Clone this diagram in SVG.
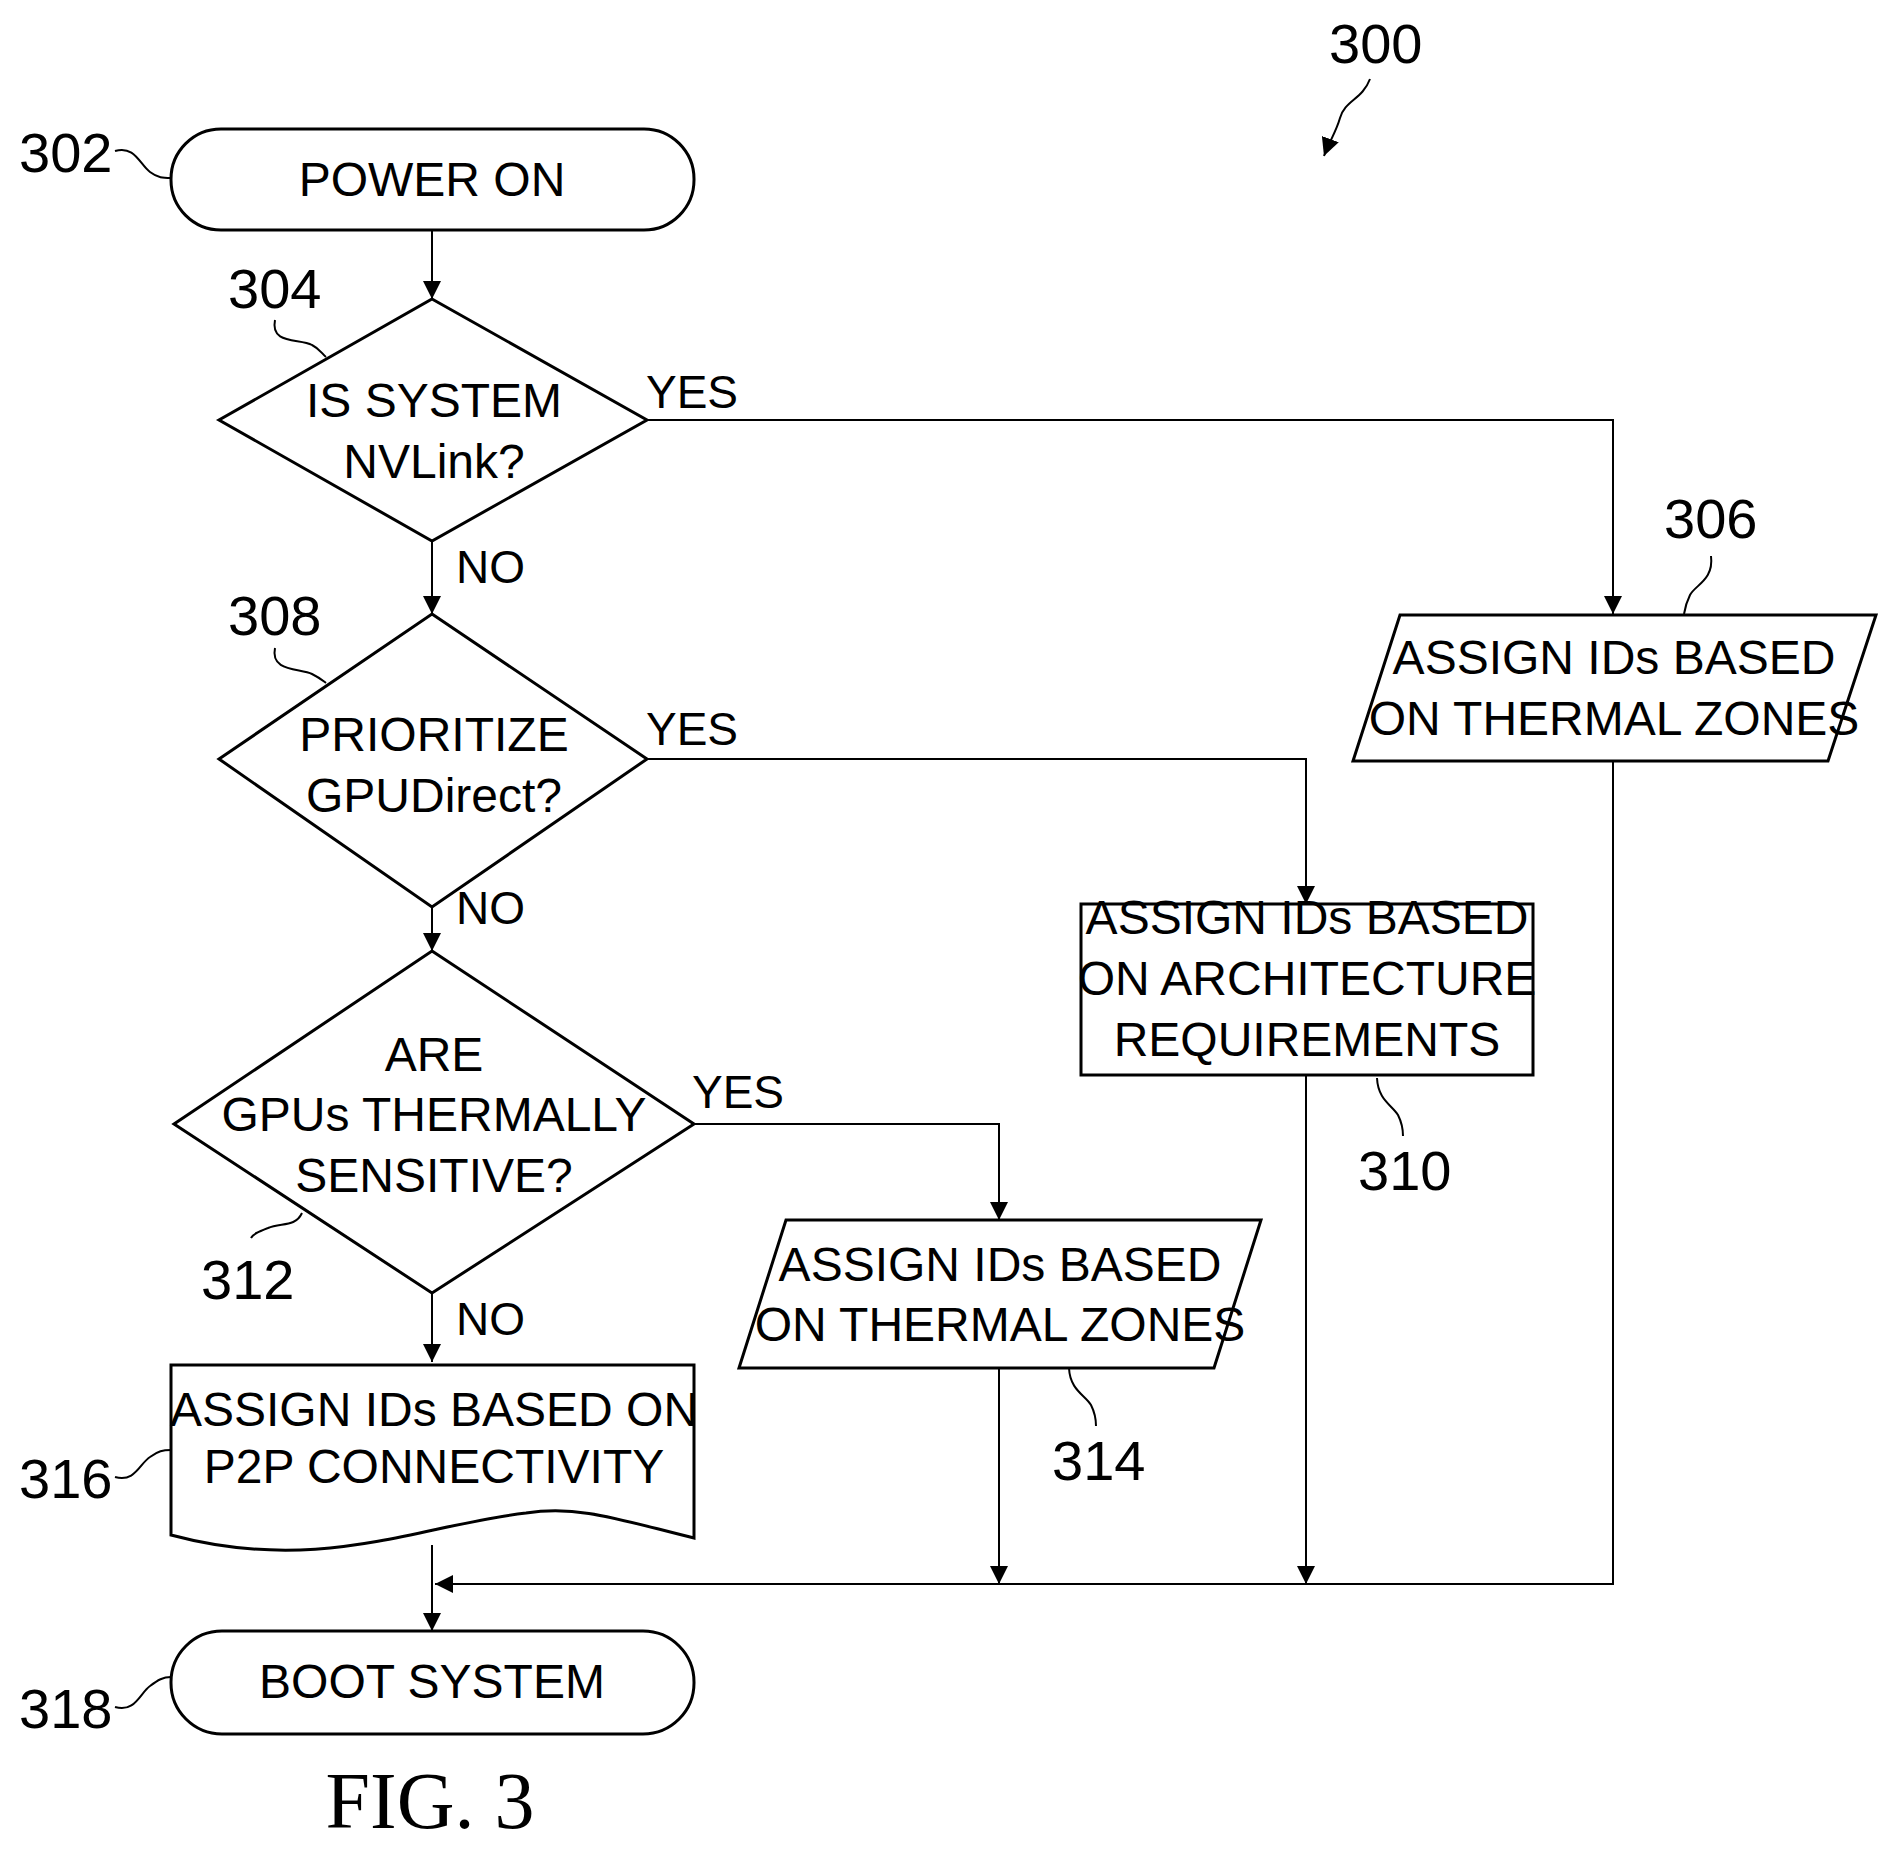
<svg xmlns="http://www.w3.org/2000/svg" width="1897" height="1849" viewBox="0 0 1897 1849">
<style>
.s{fill:none;stroke:#000;stroke-width:3}
.c{fill:none;stroke:#000;stroke-width:2}
.t{font-family:"Liberation Sans",Arial,sans-serif;font-size:48px;text-anchor:middle;fill:#000}
.l{font-family:"Liberation Sans",Arial,sans-serif;font-size:56px;fill:#000}
.y{font-family:"Liberation Sans",Arial,sans-serif;font-size:46px;fill:#000}
</style>
<defs>
<marker id="a" viewBox="0 0 10 10" refX="10" refY="5" markerWidth="9" markerHeight="9" markerUnits="userSpaceOnUse" orient="auto-start-reverse"><path d="M0,0 L10,5 L0,10 z" fill="#000"/></marker>
<marker id="b" viewBox="0 0 10 10" refX="10" refY="5" markerWidth="18" markerHeight="18" markerUnits="userSpaceOnUse" orient="auto"><path d="M0,0 L10,5 L0,10 z" fill="#000"/></marker>
</defs>
<g id="connectors">
<path class="c" d="M432,230 V299" marker-end="url(#b)"/>
<path class="c" d="M432,541 V614" marker-end="url(#b)"/>
<path class="c" d="M432,907 V951" marker-end="url(#b)"/>
<path class="c" d="M432,1293 V1362" marker-end="url(#b)"/>
<path class="c" d="M432,1545 V1631" marker-end="url(#b)"/>
<path class="c" d="M647,420 H1613 V614" marker-end="url(#b)"/>
<path class="c" d="M647,759 H1306 V904" marker-end="url(#b)"/>
<path class="c" d="M694,1124 H999 V1220" marker-end="url(#b)"/>
<path class="c" d="M999,1368 V1584" marker-end="url(#b)"/>
<path class="c" d="M1306,1075 V1584" marker-end="url(#b)"/>
<path class="c" d="M1613,761 V1584 H435" marker-end="url(#b)"/>
</g>
<g id="n300">
<text class="l" x="1329" y="63">300</text>
<path class="c" d="M1370,79 C1362,100 1345,100 1340,118 C1336,132 1330,140 1324,156" marker-end="url(#b)"/>
</g>
<g id="n302">
<rect class="s" x="171" y="129" width="523" height="101" rx="50"/>
<text class="t" x="432" y="196">POWER ON</text>
<text class="l" x="19" y="172">302</text>
<path class="c" d="M115,151 C135,145 140,165 150,172 C158,178 163,178 171,178"/>
</g>
<g id="n304">
<path class="s" d="M432,299 L647,420 L432,541 L219,420 Z"/>
<text class="t" x="434" y="417">IS SYSTEM</text>
<text class="t" x="434" y="478">NVLink?</text>
<text class="l" x="228" y="308">304</text>
<path class="c" d="M275,320 C270,345 300,338 312,345 C320,349 322,354 326,357"/>
<text class="y" x="646" y="408">YES</text>
<text class="y" x="456" y="583">NO</text>
</g>
<g id="n308">
<path class="s" d="M432,614 L647,759 L432,907 L219,759 Z"/>
<text class="t" x="434" y="751">PRIORITIZE</text>
<text class="t" x="434" y="812">GPUDirect?</text>
<text class="l" x="228" y="635">308</text>
<path class="c" d="M275,648 C270,672 300,668 312,674 C320,678 322,680 326,683"/>
<text class="y" x="646" y="745">YES</text>
<text class="y" x="456" y="924">NO</text>
</g>
<g id="n312">
<path class="s" d="M432,951 L694,1124 L432,1293 L174,1124 Z"/>
<text class="t" x="434" y="1071">ARE</text>
<text class="t" x="434" y="1131">GPUs THERMALLY</text>
<text class="t" x="434" y="1192">SENSITIVE?</text>
<text class="l" x="201" y="1299">312</text>
<path class="c" d="M302,1213 C295,1228 280,1222 268,1228 C258,1232 253,1234 251,1238"/>
<text class="y" x="692" y="1108">YES</text>
<text class="y" x="456" y="1335">NO</text>
</g>
<g id="n316">
<path class="s" d="M171,1365 H694 V1538 C620,1520 580,1505 526,1513 C420,1525 320,1575 171,1535 Z"/>
<text class="t" x="434" y="1426">ASSIGN IDs BASED ON</text>
<text class="t" x="434" y="1483">P2P CONNECTIVITY</text>
<text class="l" x="19" y="1498">316</text>
<path class="c" d="M115,1477 C135,1483 140,1463 150,1457 C158,1451 163,1450 171,1450"/>
</g>
<g id="n318">
<rect class="s" x="171" y="1631" width="523" height="103" rx="51"/>
<text class="t" x="432" y="1698">BOOT SYSTEM</text>
<text class="l" x="19" y="1728">318</text>
<path class="c" d="M115,1707 C135,1713 140,1693 150,1686 C158,1680 163,1677 171,1677"/>
</g>
<g id="n306">
<path class="s" d="M1400,615 H1876 L1828,761 H1353 Z"/>
<text class="t" x="1614" y="674">ASSIGN IDs BASED</text>
<text class="t" x="1614" y="735">ON THERMAL ZONES</text>
<text class="l" x="1664" y="538">306</text>
<path class="c" d="M1711,556 C1714,580 1695,585 1690,595 C1686,603 1685,608 1684,614"/>
</g>
<g id="n310">
<rect class="s" x="1081" y="904" width="452" height="171"/>
<text class="t" x="1307" y="934">ASSIGN IDs BASED</text>
<text class="t" x="1307" y="995">ON ARCHITECTURE</text>
<text class="t" x="1307" y="1056">REQUIREMENTS</text>
<text class="l" x="1358" y="1190">310</text>
<path class="c" d="M1377,1078 C1378,1100 1392,1105 1398,1115 C1402,1123 1403,1130 1403,1136"/>
</g>
<g id="n314">
<path class="s" d="M786,1220 H1261 L1214,1368 H739 Z"/>
<text class="t" x="1000" y="1281">ASSIGN IDs BASED</text>
<text class="t" x="1000" y="1341">ON THERMAL ZONES</text>
<text class="l" x="1052" y="1480">314</text>
<path class="c" d="M1069,1368 C1070,1390 1085,1395 1091,1405 C1095,1413 1096,1420 1096,1426"/>
</g>
<text x="430" y="1828" text-anchor="middle" font-family="Liberation Serif,'Times New Roman',serif" font-size="80">FIG. 3</text>
</svg>
